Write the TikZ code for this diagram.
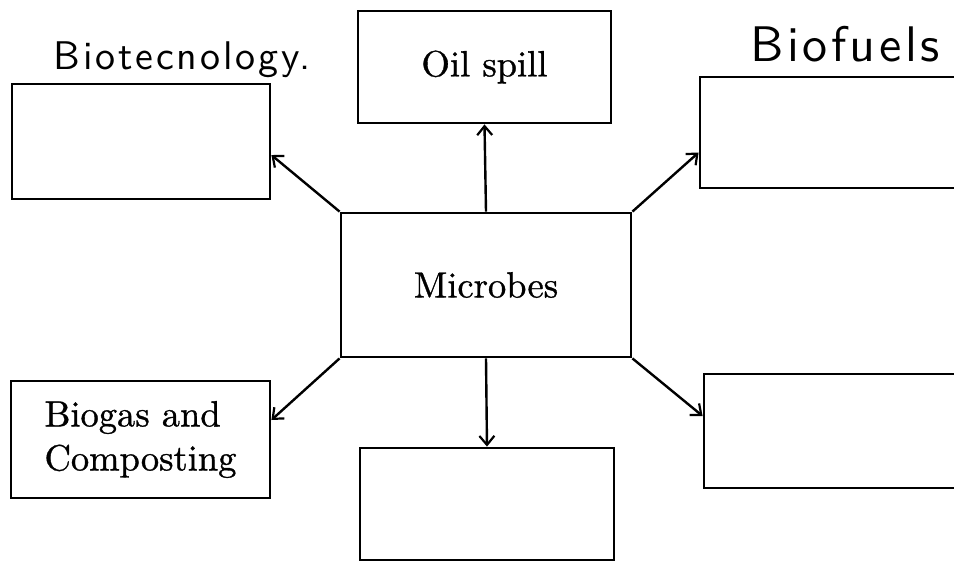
\documentclass[tikz,border=0pt]{standalone}
\usepackage{fontspec}
\newfontfamily\boxfont{lmroman10-regular.otf}[FakeBold=0.9]
\newfontfamily\handfont{lmsans10-regular.otf}[LetterSpace=7]
\newfontfamily\handfontb{lmsans10-regular.otf}[LetterSpace=7]
\usetikzlibrary{arrows.meta}
\begin{document}
\begin{tikzpicture}[x=1pt,y=-1pt,
  box/.style={draw,line width=2.8pt,rectangle,inner sep=0pt,font=\boxfont\fontsize{36.5}{44}\selectfont},
  arr/.style={line width=2.4pt,-{Straight Barb[length=9pt,width=15pt,line width=2.2pt]}},
  hand/.style={font=\handfont\fontsize{40}{44}\selectfont,inner sep=0pt}]
\useasboundingbox (0,0) rectangle (954,563);
\node[box,minimum width=258pt,minimum height=115pt] (bio) at (141,141.5) {};
\node[box,minimum width=253pt,minimum height=112pt] (oil) at (484.5,67) {Oil spill};
\node[box,minimum width=262pt,minimum height=111pt] (fuel) at (831,132.5) {};
\node[box,minimum width=290pt,minimum height=144pt] (mic) at (486,285) {Microbes};
\node[box,minimum width=259pt,minimum height=117pt,align=left] (gas) at (140.5,439.5) {Biogas and\\Composting};
\node[box,minimum width=254pt,minimum height=112pt] (bot) at (487,504) {};
\node[box,minimum width=258pt,minimum height=114pt] (rlow) at (833,431) {};
\node[hand] (biot) at (182,60) {Biotecnology.};
\node[hand,font=\handfontb\fontsize{50}{54}\selectfont] (biof) at (845,44) {Biofuels};
\draw[arr] (mic.north west) -- ([yshift=-13.5pt]bio.east);
\draw[arr] (mic.north) -- (oil.south);
\draw[arr] (mic.north east) -- ([yshift=-20pt]fuel.west);
\draw[arr] (mic.south west) -- ([yshift=19.5pt]gas.east);
\draw[arr] (mic.south) -- (bot.north);
\draw[arr] (mic.south east) -- ([yshift=15pt]rlow.west);
\end{tikzpicture}
\end{document}
